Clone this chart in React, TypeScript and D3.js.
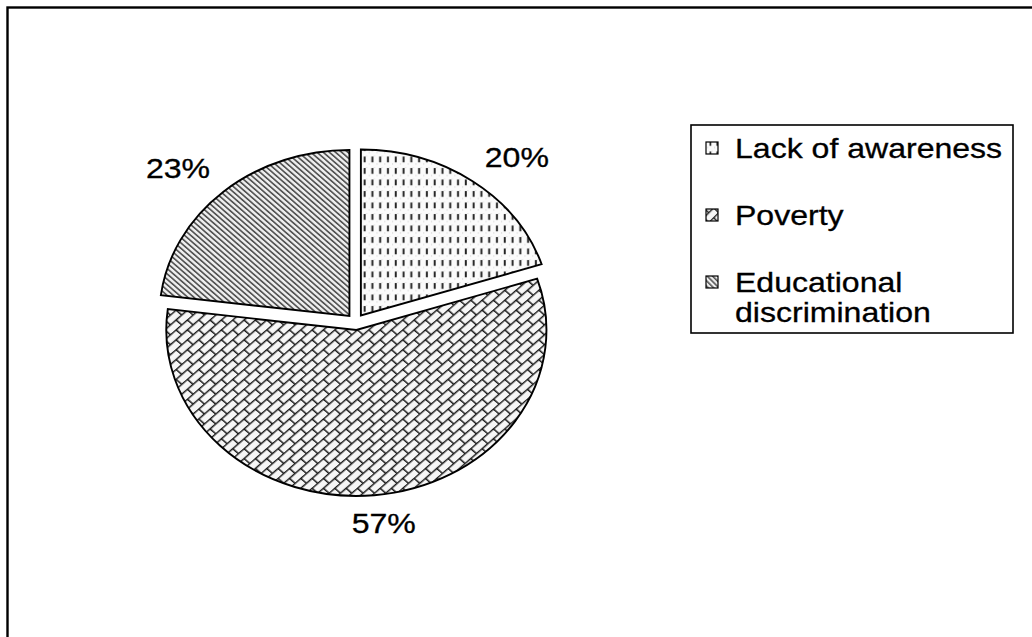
import React from "react";
import * as d3 from "d3";

const categories = ["Lack of awareness", "Poverty", "Educational discrimination"];
const values = [20, 57, 23];
const valueLabels = ["20%", "57%", "23%"];
const legendLines = [["Lack of awareness"], ["Poverty"], ["Educational", "discrimination"]];
const patternIds = ["pLack", "pPoverty", "pEdu"];

const W = 1032;
const H = 637;
const FONT = "'Liberation Sans', Arial, sans-serif";
const FS = 28;
const SX = 1.145; // horizontal stretch of the whole picture

export default function App() {
  const cx = 355.5;
  const cy = 322;
  const R = 166;
  const explode = 8;
  const labelR = 192;

  const arcs = d3.pie<number>().sort(null).startAngle(0).endAngle(2 * Math.PI)(values);
  const arcGen = d3.arc<d3.PieArcDatum<number>>().innerRadius(0).outerRadius(R);

  const clamp = (v: number) => Math.max(-1, Math.min(1, v));

  const legendX = 691;
  const legendY = 125;
  const legendW = 322;
  const legendH = 208;
  const rowY = d3.scaleLinear().domain([0, 1]).range([legendY + 33, legendY + 100]);

  return (
    <svg
      width={W}
      height={H}
      style={{ position: "absolute", left: 0, top: 0, background: "#fff" }}
      fontFamily={FONT}
    >
      <defs>
        <pattern id="pLack" patternUnits="userSpaceOnUse" width={6.8} height={11.5}>
          <rect width={6.8} height={11.5} fill="#fbfbfb" />
          <rect x={0} y={9} width={1} height={1} fill="#cfcfcf" />
          <rect x={4.5} y={1} width={1} height={1} fill="#dedede" />
          <rect x={2.4} y={2} width={1.7} height={5.8} fill="#222" />
        </pattern>
        <pattern
          id="pPoverty"
          patternUnits="userSpaceOnUse"
          width={14}
          height={14}
          patternTransform="rotate(-45)"
        >
          <rect width={14} height={14} fill="#f6f6f6" />
          <line x1={0} y1={0.6} x2={14} y2={0.6} stroke="#1a1a1a" strokeWidth={1.4} />
          <line x1={0} y1={7.6} x2={14} y2={7.6} stroke="#1a1a1a" strokeWidth={1.4} />
          <line x1={0.7} y1={0} x2={0.7} y2={7} stroke="#1a1a1a" strokeWidth={1.4} />
          <line x1={7.7} y1={7} x2={7.7} y2={14} stroke="#1a1a1a" strokeWidth={1.4} />
        </pattern>
        <pattern
          id="pEdu"
          patternUnits="userSpaceOnUse"
          width={3.8}
          height={4}
          patternTransform="rotate(-45)"
        >
          <rect width={3.8} height={4} fill="#f0f0f0" />
          <rect x={0} y={0} width={1.6} height={4} fill="#555" />
        </pattern>
      </defs>

      {/* outer chart border */}
      <rect x={7.5} y={7.5} width={1200} height={800} fill="none" stroke="#000" strokeWidth={2.4} />

      {/* pie */}
      <g transform={`translate(${cx},${cy}) scale(${SX},1)`}>
        {arcs.map((a, i) => {
          const mid = (a.startAngle + a.endAngle) / 2;
          const dx = explode * Math.sin(mid);
          const dy = -explode * Math.cos(mid);
          return (
            <path
              key={categories[i]}
              d={arcGen(a) || ""}
              transform={`translate(${dx},${dy})`}
              fill={`url(#${patternIds[i]})`}
              stroke="#000"
              strokeWidth={1.9}
              vectorEffect="non-scaling-stroke"
              strokeLinejoin="miter"
            />
          );
        })}
      </g>

      {/* data labels */}
      {arcs.map((a, i) => {
        const mid = (a.startAngle + a.endAngle) / 2;
        const ax = cx + SX * labelR * Math.sin(mid);
        const ay = cy - labelR * Math.cos(mid);
        const halfW = (valueLabels[i].length * 0.667 * FS * SX) / 2;
        const halfH = (0.716 * FS) / 2;
        const lx = ax + halfW * clamp(2.5 * Math.sin(mid));
        const ly = ay + halfH * clamp(-2.5 * Math.cos(mid));
        return (
          <text
            key={valueLabels[i]}
            transform={`translate(${lx},${ly + halfH}) scale(${SX},1)`}
            textAnchor="middle"
            fontSize={FS}
            fill="#000"
            stroke="#000"
            strokeWidth={0.3}
          >
            {valueLabels[i]}
          </text>
        );
      })}

      {/* legend */}
      <rect
        x={legendX}
        y={legendY}
        width={legendW}
        height={legendH}
        fill="#fff"
        stroke="#000"
        strokeWidth={1.6}
      />
      {legendLines.map((lines, i) => {
        const baseY = rowY(i);
        return (
          <g key={categories[i]}>
            <rect
              x={legendX + 15}
              y={baseY - 16}
              width={12}
              height={12}
              fill={`url(#${patternIds[i]})`}
              stroke="#000"
              strokeWidth={1.2}
            />
            {lines.map((ln, j) => (
              <text
                key={ln}
                transform={`translate(${legendX + 44},${baseY + j * 30}) scale(${SX},1)`}
                fontSize={FS}
                fill="#000"
                stroke="#000"
                strokeWidth={0.3}
              >
                {ln}
              </text>
            ))}
          </g>
        );
      })}
    </svg>
  );
}
